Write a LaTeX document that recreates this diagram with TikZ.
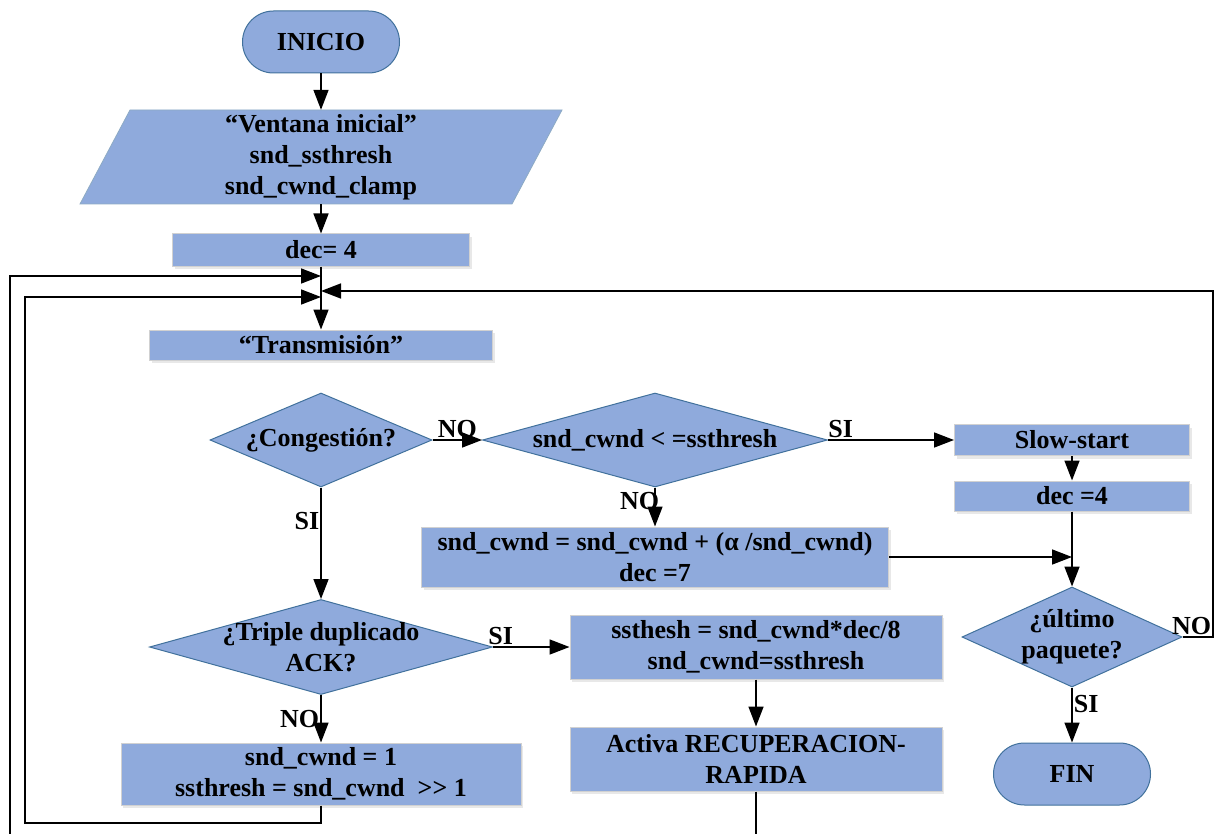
\documentclass[tikz,border=0pt]{standalone}
\usepackage{fontspec}
\setmainfont{Liberation Serif}
\usetikzlibrary{arrows.meta,shapes.geometric,shadows}
\definecolor{fillb}{HTML}{8FAADC}
\definecolor{edgeb}{HTML}{41719C}
\begin{document}
\begin{tikzpicture}[x=1pt,y=-1pt, font=\fontsize{26}{31}\selectfont\bfseries,
 box/.style={rectangle, fill=fillb, draw=black!18, line width=1pt, inner sep=0, align=center,
   drop shadow={opacity=0.18,shadow xshift=2pt,shadow yshift=-3pt}},
 dia/.style={diamond, fill=fillb, draw=edgeb, line width=1pt, inner sep=0},
 term/.style={rectangle, rounded corners=31pt, fill=fillb, draw=edgeb, line width=1pt,
   minimum width=157pt, minimum height=62pt, inner sep=0},
 txt/.style={align=center, inner sep=0},
 arr/.style={line width=1.6pt, -{Triangle[length=20pt,width=15pt]}},
 ln/.style={line width=1.6pt},
 lab/.style={inner sep=1pt}]
\useasboundingbox (0,0) rectangle (1214,834);
% shapes
\node[term] (ini) at (321,42) {INICIO};
\fill[fillb, draw=edgeb!60, line width=0.8pt] (130,110) -- (562,110) -- (512,204) -- (80,204) -- cycle;
\node[txt, minimum width=380pt, minimum height=94pt] (par) at (321,157) {“Ventana inicial”\\snd\_ssthresh\\snd\_cwnd\_clamp};
\node[box, minimum width=297pt, minimum height=32pt] (dec) at (321,250) {dec= 4};
\coordinate (l1) at (321,276);
\coordinate (m) at (321,291);
\coordinate (l2) at (321,297);
\node[box, minimum width=343pt, minimum height=30pt] (tx) at (321,345) {“Transmisión”};
\node[dia, minimum width=222pt, minimum height=94pt] (cong) at (321,440) {};
\node[txt] (congt) at (cong) {¿Congestión?};
\node[dia, minimum width=345pt, minimum height=94pt] (cmp) at (655,440) {};
\node[txt] (cmpt) at (cmp) {snd\_cwnd < =ssthresh};
\node[box, minimum width=235pt, minimum height=31pt] (ss) at (1072,440) {Slow-start};
\node[box, minimum width=235pt, minimum height=30pt] (dec4) at (1072,496) {dec =4};
\node[box, minimum width=467pt, minimum height=60pt] (ca) at (655,557) {snd\_cwnd = snd\_cwnd + (α /snd\_cwnd)\\dec =7};
\node[dia, minimum width=220pt, minimum height=100pt] (ult) at (1072,637) {};
\node[txt] (ultt) at (ult) {¿último\\paquete?};
\node[term] (fin) at (1072,774) {FIN};
\node[dia, minimum width=343pt, minimum height=95pt] (tri) at (321,647) {};
\node[txt] (trit) at (tri) {¿Triple duplicado\\ACK?};
\node[box, minimum width=372pt, minimum height=64pt] (sst) at (756,647) {ssthesh = snd\_cwnd*dec/8\\snd\_cwnd=ssthresh};
\node[box, minimum width=372pt, minimum height=64pt] (rr) at (756,759) {Activa RECUPERACION-\\RAPIDA};
\node[box, minimum width=400pt, minimum height=62pt] (rst) at (321,774) {snd\_cwnd = 1\\ssthresh = snd\_cwnd~~>\kern0pt> 1};
\coordinate (rrend) at (756,834);
\coordinate (outb) at (10,834);
\coordinate (j) at (1072,557);
% connectors
\draw[arr] (ini) -- (par);
\draw[arr] (par) -- (dec);
\draw[arr] (dec) -- (tx);
\draw[arr] (cong.east) -- (cmp.west) node[midway, above, lab] {NO};
\draw[arr] (cmp.east) -- (ss.west) node[pos=0.1, above, lab] {SI};
\draw[arr] (ss) -- (dec4);
\draw[arr] (cmp.south) -- (ca.north) node[pos=0.35, left, lab, xshift=6pt] {NO};
\draw[arr] (ca.east) -- (j);
\draw[arr] (dec4) -- (ult);
\draw[arr] (cong.south) -- (tri.north) node[pos=0.3, left, lab] {SI};
\draw[arr] (tri.east) -- (sst.west) node[pos=0.1, above, lab] {SI};
\draw[arr] (sst) -- (rr);
\draw[ln] (rr.south) -- (rrend);
\draw[arr] (tri.south) -- (rst.north) node[midway, left, lab] {NO};
\draw[arr] (ult.south) -- (fin.north) node[pos=0.3, right, lab] {SI};
\draw[arr] (ult.east) -- (1213,637) node[above left, lab] {NO} -- (1213,291) -- (m);
\draw[arr] (rst.south) -- (321,823) -- (25,823) -- (25,297) -- (l2);
\draw[arr] (outb) -- (10,276) -- (l1);
\end{tikzpicture}
\end{document}
